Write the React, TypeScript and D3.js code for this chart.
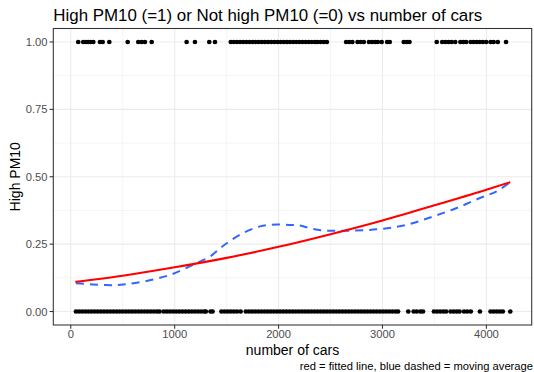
import React from "react";
import * as d3 from "d3";

// number of cars for days with high PM10 (=1)
const highCars: number[] = [
  72, 120, 146, 168, 192, 217, 281, 307, 371, 548, 650, 682, 714, 779, 1115, 1195, 1333, 1388,
  1540, 1570, 1600, 1630, 1660, 1690, 1720, 1750, 1780, 1810, 1840, 1870, 1900, 1930, 1960, 1990,
  2020, 2050, 2080, 2110, 2140, 2170, 2200, 2230, 2260, 2290, 2320, 2350, 2375, 2405, 2435, 2465,
  2650, 2680, 2710, 2760, 2790, 2820, 2870, 2900, 2930, 2955, 2992, 3045, 3070, 3205, 3235, 3260,
  3522, 3575, 3605, 3635, 3665, 3700, 3750, 3780, 3805, 3848, 3875, 3905, 3935, 3965, 3998, 4040,
  4070, 4110, 4189,
];

// number of cars for days without high PM10 (=0)
const lowCars: number[] = [
  50, 80, 110, 140, 170, 200, 230, 260, 290, 320, 350, 380, 410, 440, 470, 500, 530, 560, 590, 620,
  650, 680, 710, 740, 770, 800, 830, 855, 895, 925, 955, 985, 1015, 1045, 1075, 1105, 1135, 1165,
  1195, 1225, 1255, 1285, 1300, 1345, 1365, 1450, 1480, 1510, 1540, 1570, 1600, 1635, 1685, 1715,
  1745, 1775, 1805, 1835, 1865, 1895, 1925, 1955, 1985, 2015, 2045, 2075, 2105, 2135, 2165, 2195,
  2225, 2255, 2285, 2315, 2345, 2375, 2405, 2435, 2465, 2495, 2525, 2555, 2585, 2615, 2645, 2675,
  2705, 2735, 2765, 2795, 2825, 2855, 2885, 2915, 2945, 2975, 3005, 3035, 3065, 3095, 3125, 3150,
  3248, 3300, 3330, 3365, 3390, 3495, 3525, 3555, 3585, 3612, 3655, 3685, 3715, 3742, 3785, 3815,
  3850, 3938, 4040, 4070, 4100, 4130, 4158, 4230,
];

// fitted line (red)
const fitCars = [45, 500, 1000, 1500, 2000, 2500, 3000, 3500, 4000, 4230];
const fitProb = [0.110, 0.133, 0.164, 0.199, 0.240, 0.287, 0.338, 0.394, 0.452, 0.480];

// moving average (blue dashed)
const avgCars = [50, 346, 505, 698, 955, 1212, 1340, 1468, 1628, 1821, 1982, 2110, 2206, 2303, 2430, 2687, 2976, 3233, 3489, 3714, 3938, 4099, 4230];
const avgProb = [0.105, 0.098, 0.100, 0.111, 0.136, 0.180, 0.204, 0.244, 0.285, 0.316, 0.323, 0.321, 0.319, 0.309, 0.301, 0.300, 0.306, 0.322, 0.353, 0.384, 0.421, 0.446, 0.480];

const xTicks = [0, 1000, 2000, 3000, 4000];
const yTicks = [0, 0.25, 0.5, 0.75, 1];

const W = 534;
const H = 372;
const panel = { left: 53.3, right: 531.7, top: 28.5, bottom: 325 };
const font = "'Liberation Sans', Arial, Helvetica, sans-serif";

export default function App() {
  const x = d3.scaleLinear().domain([-168, 4436]).range([panel.left, panel.right]);
  const y = d3.scaleLinear().domain([-0.05, 1.05]).range([panel.bottom, panel.top]);

  // minor grid halfway between the major ticks
  const xMinor = xTicks.slice(0, -1).map((t) => t + 500);
  const yMinor = yTicks.slice(0, -1).map((t) => t + 0.125);

  const fitLine = d3
    .line<number>()
    .x((_, i) => x(fitCars[i]))
    .y((d) => y(d))
    .curve(d3.curveMonotoneX);
  const avgLine = d3
    .line<number>()
    .x((_, i) => x(avgCars[i]))
    .y((d) => y(d))
    .curve(d3.curveCatmullRom);

  return (
    <svg width={W} height={H} style={{ position: "absolute", left: 0, top: 0, background: "#fff" }} fontFamily={font}>
      <text x={panel.left} y={21} fontSize={16.9} fill="#000">
        High PM10 (=1) or Not high PM10 (=0) vs number of cars
      </text>

      {/* grid */}
      {xMinor.map((t) => (
        <line key={"xm" + t} x1={x(t)} x2={x(t)} y1={panel.top} y2={panel.bottom} stroke="#EBEBEB" strokeWidth={0.55} />
      ))}
      {yMinor.map((t) => (
        <line key={"ym" + t} x1={panel.left} x2={panel.right} y1={y(t)} y2={y(t)} stroke="#EBEBEB" strokeWidth={0.55} />
      ))}
      {xTicks.map((t) => (
        <line key={"xg" + t} x1={x(t)} x2={x(t)} y1={panel.top} y2={panel.bottom} stroke="#EBEBEB" strokeWidth={1.1} />
      ))}
      {yTicks.map((t) => (
        <line key={"yg" + t} x1={panel.left} x2={panel.right} y1={y(t)} y2={y(t)} stroke="#EBEBEB" strokeWidth={1.1} />
      ))}

      {/* points */}
      {highCars.map((c, i) => (
        <circle key={"h" + i} cx={x(c)} cy={y(1)} r={2.35} fill="#000" />
      ))}
      {lowCars.map((c, i) => (
        <circle key={"l" + i} cx={x(c)} cy={y(0)} r={2.35} fill="#000" />
      ))}

      <path d={avgLine(avgProb) ?? ""} fill="none" stroke="#3366FF" strokeWidth={2} strokeDasharray="8,6" />
      <path d={fitLine(fitProb) ?? ""} fill="none" stroke="#FF0000" strokeWidth={2.1} />

      <rect
        x={panel.left}
        y={panel.top}
        width={panel.right - panel.left}
        height={panel.bottom - panel.top}
        fill="none"
        stroke="#333333"
        strokeWidth={1.07}
      />

      {/* axes */}
      {xTicks.map((t) => (
        <g key={"xt" + t}>
          <line x1={x(t)} x2={x(t)} y1={panel.bottom} y2={panel.bottom + 3.7} stroke="#333333" strokeWidth={1.07} />
          <text x={x(t)} y={338} fontSize={11.2} fill="#4D4D4D" textAnchor="middle">
            {t}
          </text>
        </g>
      ))}
      {yTicks.map((t) => (
        <g key={"yt" + t}>
          <line x1={panel.left - 3.7} x2={panel.left} y1={y(t)} y2={y(t)} stroke="#333333" strokeWidth={1.07} />
          <text x={47.5} y={y(t) + 4} fontSize={11.2} fill="#4D4D4D" textAnchor="end">
            {t.toFixed(2)}
          </text>
        </g>
      ))}

      <text x={(panel.left + panel.right) / 2} y={355} fontSize={14} textAnchor="middle" fill="#000">
        number of cars
      </text>
      <text transform={`translate(19.5,${(panel.top + panel.bottom) / 2}) rotate(-90)`} fontSize={14} textAnchor="middle" fill="#000">
        High PM10
      </text>
      <text x={533} y={370} fontSize={11.2} textAnchor="end" fill="#000">
        red = fitted line, blue dashed = moving average
      </text>
    </svg>
  );
}
